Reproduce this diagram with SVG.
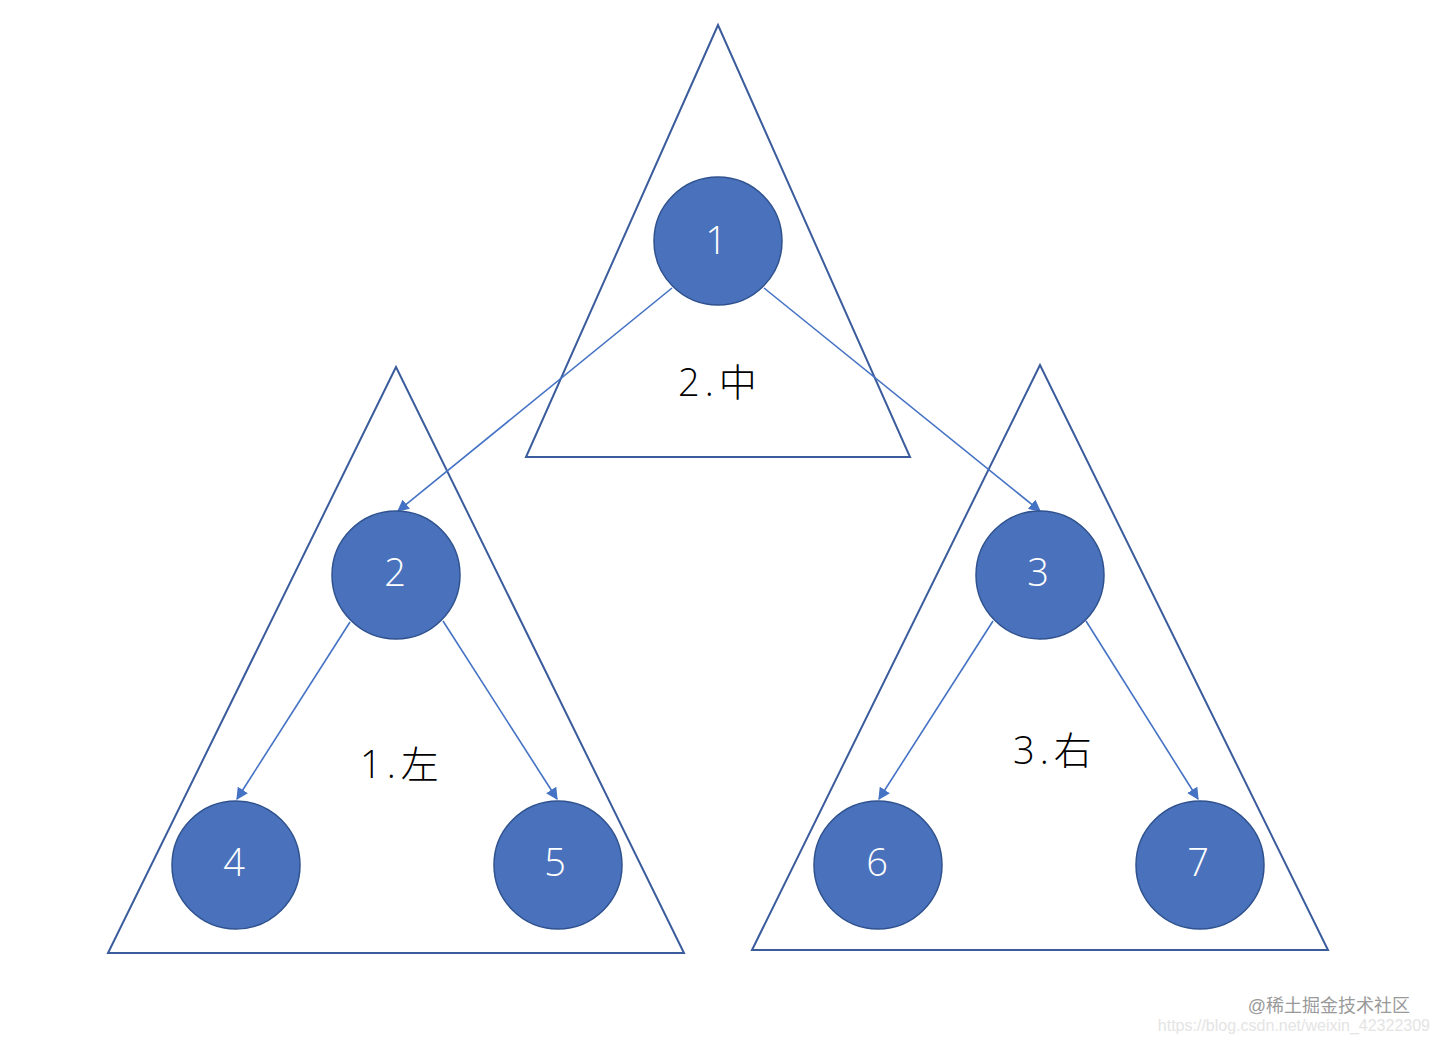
<svg xmlns="http://www.w3.org/2000/svg" width="1438" height="1044" viewBox="0 0 1438 1044">
<defs>
<style>
.tri{fill:none;stroke:#3b5c9c;stroke-width:2}
.node circle{fill:#4a72bc;stroke:#2f528f;stroke-width:1.5}
.node text{fill:#fff;font-family:"Open Sans","Noto Sans",sans-serif;font-weight:300;font-size:38px;text-anchor:middle}
.edge{stroke:#4472c4;stroke-width:1.6;fill:none;marker-end:url(#arr)}
.lbl{font-family:"Open Sans","Noto Sans CJK SC",sans-serif;font-weight:300;font-size:38px;fill:#000;letter-spacing:5px}
.lbl tspan{font-family:"Noto Sans CJK SC",sans-serif;font-weight:300}
</style>
<marker id="arr" viewBox="0 0 10 10" refX="9" refY="5" markerWidth="12" markerHeight="12" markerUnits="userSpaceOnUse" orient="auto"><path d="M0,0 L10,5 L0,10 z" fill="#4472c4"/></marker>
</defs>
<rect width="1438" height="1044" fill="#fff"/>
<g id="triangles">
<polygon class="tri" points="718,25 526,457 910,457"/>
<polygon class="tri" points="396,367 108,953 684,953"/>
<polygon class="tri" points="1040,365 752,950 1328,950"/>
</g>
<g id="labels">
<text class="lbl" x="678" y="396">2.<tspan>中</tspan></text>
<text class="lbl" x="360" y="778">1.<tspan>左</tspan></text>
<text class="lbl" x="1013" y="764">3.<tspan>右</tspan></text>
</g>
<g id="connectors">
<line class="edge" x1="672" y1="288" x2="398" y2="511"/>
<line class="edge" x1="764" y1="288" x2="1040" y2="511"/>
<line class="edge" x1="350" y1="622" x2="237" y2="799"/>
<line class="edge" x1="443" y1="621" x2="557" y2="799"/>
<line class="edge" x1="993" y1="621" x2="879" y2="799"/>
<line class="edge" x1="1086" y1="621" x2="1198" y2="799"/>
</g>
<g id="n1" class="node"><circle cx="718" cy="241" r="64"/><text x="716" y="254">1</text></g>
<g id="n2" class="node"><circle cx="396" cy="575" r="64"/><text x="395" y="586">2</text></g>
<g id="n3" class="node"><circle cx="1040" cy="575" r="64"/><text x="1038" y="586">3</text></g>
<g id="n4" class="node"><circle cx="236" cy="865" r="64"/><text x="234" y="876">4</text></g>
<g id="n5" class="node"><circle cx="558" cy="865" r="64"/><text x="555" y="876">5</text></g>
<g id="n6" class="node"><circle cx="878" cy="865" r="64"/><text x="877" y="876">6</text></g>
<g id="n7" class="node"><circle cx="1200" cy="865" r="64"/><text x="1198" y="876">7</text></g>
<g id="watermark" font-family="'Liberation Sans','Noto Sans CJK SC',sans-serif">
<text x="1410" y="1012" font-size="18" fill="#9a9a9a" text-anchor="end">@稀土掘金技术社区</text>
<text x="1430" y="1031" font-size="16" fill="#e4e4e4" text-anchor="end">https://blog.csdn.net/weixin_42322309</text>
</g>
</svg>
